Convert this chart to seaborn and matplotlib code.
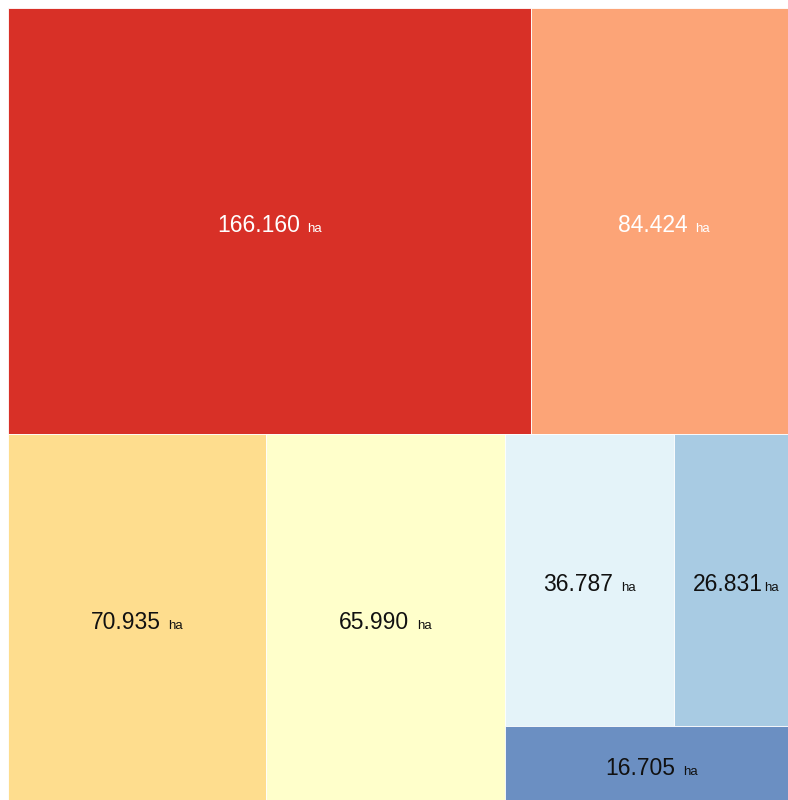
import matplotlib
matplotlib.use('Agg')
import matplotlib.pyplot as plt
from matplotlib.patches import Rectangle
from matplotlib.offsetbox import TextArea, HPacker, AnnotationBbox
import seaborn as sns

# data
values = [166.160, 84.424, 70.935, 65.990, 36.787, 26.831, 16.705]
unit = 'ha'

# style
tile_colors = ['#d83027', '#fca477', '#fedd8e', '#ffffcb', '#e4f3f9', '#a8cbe3', '#6b8fc2']
label_colors = ['white', 'white', '#111111', '#111111', '#111111', '#111111', '#111111']

CANVAS_W, CANVAS_H = 789, 795   # treemap area in px (slightly larger than the png, gets cropped)


def squarify(vals, x0, y0, x1, y1, ratio=1.25):
    # d3-style squarified layout, returns (x, y, w, h) per value
    rects = []
    total = float(sum(vals))
    i0, n = 0, len(vals)
    while i0 < n:
        dx, dy = x1 - x0, y1 - y0
        s = vals[i0]
        vmin = vmax = s
        alpha = max(dy / dx, dx / dy) / (total * ratio)
        beta = s * s * alpha
        best = max(vmax / beta, beta / vmin)
        i1 = i0 + 1
        while i1 < n:
            v = vals[i1]
            s2 = s + v
            beta = s2 * s2 * alpha
            worst = max(max(vmax, v) / beta, beta / min(vmin, v))
            if worst > best:
                break
            s, best = s2, worst
            vmin, vmax = min(vmin, v), max(vmax, v)
            i1 += 1
        row = vals[i0:i1]
        if dx < dy:
            h = dy * s / total
            x = x0
            for v in row:
                w = dx * v / s
                rects.append((x, y0, w, h))
                x += w
            y0 += h
        else:
            w = dx * s / total
            y = y0
            for v in row:
                h = dy * v / s
                rects.append((x0, y, w, h))
                y += h
            x0 += w
        total -= s
        i0 = i1
    return rects


sns.set_theme(style='white')
plt.rcParams['font.family'] = ['Liberation Sans', 'DejaVu Sans']
palette = sns.color_palette(tile_colors)

fig = plt.figure(figsize=(7.88, 8.0), dpi=100)
ax = fig.add_axes([8 / 788, -3 / 800, CANVAS_W / 788, CANVAS_H / 800])
ax.set_xlim(0, CANVAS_W)
ax.set_ylim(CANVAS_H, 0)
ax.axis('off')

rects = squarify(values, 0, 0, CANVAS_W, CANVAS_H)
for (x, y, w, h), val, fc, tc in zip(rects, values, palette, label_colors):
    ax.add_patch(Rectangle((x, y), w, h, facecolor=fc, edgecolor='white', linewidth=0.6))
    num = TextArea(f'{val:.3f}', textprops=dict(color=tc, fontsize=16.5))
    u = TextArea(unit, textprops=dict(color=tc, fontsize=9.5))
    sep = 5.5 if w > 150 else 1
    pack = HPacker(children=[num, u], align='baseline', pad=0, sep=sep)
    ab = AnnotationBbox(pack, (x + w / 2, y + h / 2), xybox=(0, -3),
                        boxcoords='offset points', frameon=False,
                        box_alignment=(0.5, 0.5), pad=0)
    ax.add_artist(ab)

fig.savefig('out.png', dpi=100, facecolor='white')
